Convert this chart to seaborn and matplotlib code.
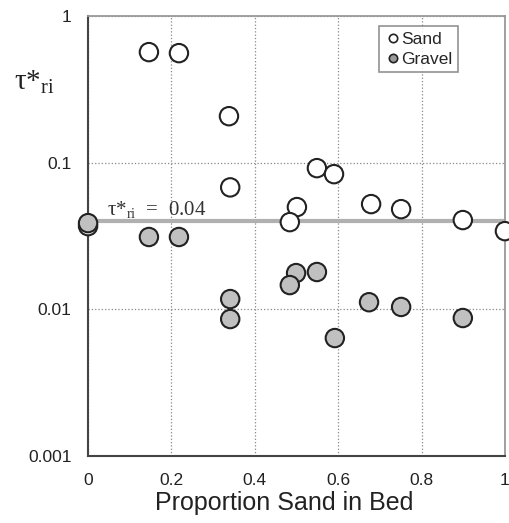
import matplotlib
matplotlib.use("Agg")
import matplotlib.pyplot as plt
import seaborn as sns
import pandas as pd
import numpy as np
from matplotlib.lines import Line2D

sand_x = [0.0, 0.146, 0.218, 0.338, 0.341, 0.549, 0.590, 0.501, 0.484, 0.679, 0.751, 0.899, 1.0]
sand_y = [0.037, 0.569, 0.560, 0.208, 0.068, 0.092, 0.0837, 0.0499, 0.0394, 0.0523, 0.0483, 0.0407, 0.0342]
gravel_x = [0.0, 0.146, 0.218, 0.341, 0.341, 0.499, 0.484, 0.549, 0.592, 0.674, 0.751, 0.899]
gravel_y = [0.0388, 0.0312, 0.0312, 0.01177, 0.0086, 0.0177, 0.01466, 0.018, 0.00638, 0.0112, 0.0104, 0.00874]
ref_value = 0.04
x_ticks = [0, 0.2, 0.4, 0.6, 0.8, 1]
x_tick_labels = ["0", "0.2", "0.4", "0.6", "0.8", "1"]
y_ticks = [0.001, 0.01, 0.1, 1]
y_tick_labels = ["0.001", "0.01", "0.1", "1"]

sns.set_theme(style="white")
plt.rcParams['font.family'] = ['Liberation Sans', 'DejaVu Sans']
plt.rcParams['mathtext.fontset'] = 'custom'
plt.rcParams['mathtext.rm'] = 'Liberation Serif'
plt.rcParams['mathtext.it'] = 'Liberation Serif:italic'

df = pd.DataFrame({
    "x": sand_x + gravel_x,
    "y": sand_y + gravel_y,
    "kind": ["Sand"] * len(sand_x) + ["Gravel"] * len(gravel_x),
})

fig = plt.figure(figsize=(5.09, 5.23), dpi=100)
ax = fig.add_axes([0.173, 0.128, 0.819, 0.841])

ax.axhline(ref_value, color="#b0b0b0", lw=3, zorder=1)

sns.scatterplot(data=df, x="x", y="y", hue="kind", style="kind",
                palette={"Sand": "white", "Gravel": "#c0c0c0"},
                markers={"Sand": "o", "Gravel": "o"},
                s=175, edgecolor="#222222", linewidth=1.5, ax=ax,
                zorder=3, clip_on=False, legend=False)

ax.set_yscale("log")
ax.set_xlim(0, 1)
ax.set_ylim(0.001, 1)
ax.set_xticks(x_ticks)
ax.set_xticklabels(x_tick_labels)
ax.set_yticks(y_ticks)
ax.set_yticklabels(y_tick_labels)
ax.yaxis.set_minor_locator(matplotlib.ticker.NullLocator())
ax.tick_params(axis="both", which="major", direction="out", length=4,
               width=1, color="#555555", labelsize=12.5, labelcolor="#222222", pad=8)
ax.grid(True, which="major", linestyle=":", color="#888888", lw=0.9)
ax.set_axisbelow(True)

for side in ["left", "bottom"]:
    ax.spines[side].set_color("#444444")
    ax.spines[side].set_linewidth(1.5)
for side in ["top", "right"]:
    ax.spines[side].set_color("#999999")
    ax.spines[side].set_linewidth(1.3)

ax.set_xlabel("Proportion Sand in Bed", fontsize=18, color="#222222")
ax.xaxis.set_label_coords(0.471, -0.107)
ax.xaxis.label.set_va("center")
ax.set_ylabel("")
fig.text(0.028, 0.842, r"τ*$_{\mathrm{ri}}$", fontsize=21, family="Liberation Serif",
         color="#222222", ha="left", va="center")

ax.text(0.045, 0.041, r"τ*$_{\mathrm{ri}}$  =  0.04", fontsize=15, family="Liberation Serif",
        color="#333333", ha="left", va="bottom")

handles = [Line2D([], [], marker="o", ls="", markerfacecolor="white", markeredgecolor="#222222", markersize=6, markeredgewidth=1.2),
           Line2D([], [], marker="o", ls="", markerfacecolor="#999999", markeredgecolor="#222222", markersize=6, markeredgewidth=1.2)]
leg = ax.legend(handles, ["Sand", "Gravel"], loc="upper right", bbox_to_anchor=(0.895, 0.985),
                fontsize=12.5, frameon=True, fancybox=False, edgecolor="#777777",
                handletextpad=0.0, borderpad=0.3, labelspacing=0.3, handlelength=1.0,
                borderaxespad=0.2)
leg.get_frame().set_linewidth(1.2)

fig.savefig("out.png", dpi=100)
